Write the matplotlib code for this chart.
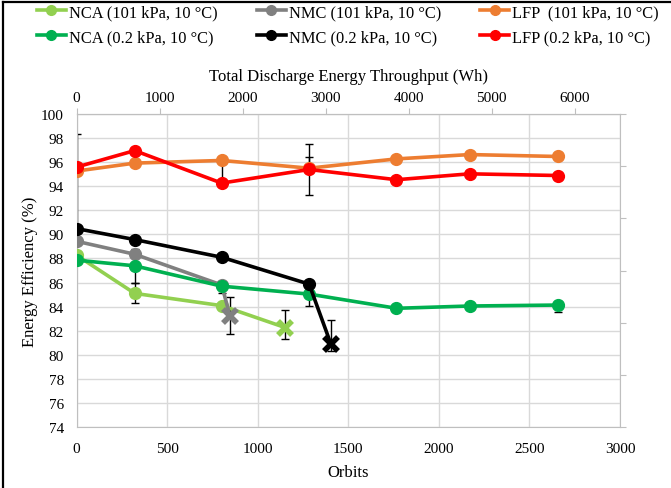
import matplotlib
matplotlib.use("Agg")
import matplotlib.pyplot as plt
from matplotlib.lines import Line2D
import numpy as np

plt.rcParams['font.family'] = ['Liberation Serif', 'DejaVu Serif']
plt.rcParams['font.size'] = 11

# --- data ---
orbits_nca101 = [0, 321, 801, 1152]
eff_nca101 = [88.27, 85.10, 84.08, 82.26]
errlo_nca101 = [0, 0.83, 0, 0.91]
errhi_nca101 = [0, 0.83, 0, 1.46]

orbits_nmc101 = [0, 321, 801, 847]
eff_nmc101 = [89.43, 88.35, 85.80, 83.25]
errlo_nmc101 = [0, 0, 0, 1.55]
errhi_nmc101 = [0, 0, 0, 1.55]

orbits_lfp101 = [0, 321, 801, 1284, 1766, 2170, 2659]
eff_lfp101 = [95.26, 95.92, 96.14, 95.50, 96.27, 96.63, 96.47]
errlo_lfp101 = [0, 0, 1.9, 0, 0, 0, 0]
errhi_lfp101 = [0, 0, 0, 0.9, 0, 0, 0]

orbits_nca02 = [0, 321, 801, 1284, 1766, 2170, 2659]
eff_nca02 = [87.86, 87.39, 85.70, 85.04, 83.86, 84.05, 84.13]
errlo_nca02 = [0, 1.4, 0.55, 1.0, 0, 0, 0.55]
errhi_nca02 = [0, 1.4, 0, 0, 0, 0, 0]

orbits_nmc02 = [0, 321, 801, 1284, 1404]
eff_nmc02 = [90.48, 89.57, 88.10, 85.87, 80.90]
errlo_nmc02 = [0, 0, 0, 0, 0.6]
errhi_nmc02 = [7.9, 0, 0, 0, 2.0]

orbits_lfp02 = [0, 321, 801, 1284, 1766, 2170, 2659]
eff_lfp02 = [95.59, 96.96, 94.26, 95.39, 94.54, 95.03, 94.89]
errlo_lfp02 = [0, 0, 0, 2.1, 0, 0, 0]
errhi_lfp02 = [0, 0, 0, 2.1, 0, 0, 0]

labels = ['NCA (101 kPa, 10 °C)', 'NMC (101 kPa, 10 °C)', 'LFP  (101 kPa, 10 °C)',
          'NCA (0.2 kPa, 10 °C)', 'NMC (0.2 kPa, 10 °C)', 'LFP (0.2 kPa, 10 °C)']
colors = ['#92d050', '#808080', '#ed7d31', '#00b050', '#000000', '#ff0000']
# series that end in a cell failure (last point drawn as X)
failed = [True, True, False, False, True, False]

series = [
    (orbits_nca101, eff_nca101, errlo_nca101, errhi_nca101),
    (orbits_nmc101, eff_nmc101, errlo_nmc101, errhi_nmc101),
    (orbits_lfp101, eff_lfp101, errlo_lfp101, errhi_lfp101),
    (orbits_nca02, eff_nca02, errlo_nca02, errhi_nca02),
    (orbits_nmc02, eff_nmc02, errlo_nmc02, errhi_nmc02),
    (orbits_lfp02, eff_lfp02, errlo_lfp02, errhi_lfp02),
]

wh_max = 6546.0   # top axis value at 3000 orbits
orbit_max = 3000.0

W, H = 671, 489
fig = plt.figure(figsize=(W / 100, H / 100), dpi=100)
ax = fig.add_axes([76.5 / W, 1 - 428 / H, (620 - 76.5) / W, (428 - 115) / H])

# border (left and top edges visible in the reference)
fig.add_artist(Line2D([3 / W, 3 / W], [0, 1 - 3 / H], color='black', lw=1.6,
                      transform=fig.transFigure))
fig.add_artist(Line2D([3 / W, 1], [1 - 3 / H, 1 - 3 / H], color='black', lw=1.6,
                      transform=fig.transFigure))

handles = []
for i, (x, y, lo, hi) in enumerate(series):
    x = np.array(x)
    y = np.array(y)
    lo = np.array(lo)
    hi = np.array(hi)
    c = colors[i]
    z = 3 + i
    m = (lo > 0) | (hi > 0)
    ax.errorbar(x[m], y[m], yerr=[lo[m], hi[m]], fmt='none', ecolor='black',
                elinewidth=1, capsize=3, capthick=1, zorder=2)
    ax.plot(x, y, '-', color=c, lw=2.6, zorder=z)
    if failed[i]:
        ax.plot(x[:-1], y[:-1], 'o', color=c, ms=8.5, zorder=z)
        ax.plot(x[-1:], y[-1:], 'x', color=c, ms=10, mew=4, zorder=z)
    else:
        ax.plot(x, y, 'o', color=c, ms=8.5, zorder=z)
    h, = ax.plot([], [], '-o', color=c, lw=2.6, ms=7)
    handles.append(h)

ax.set_xlim(0, orbit_max)
ax.set_ylim(74, 100)
ax.set_xticks(np.arange(0, 3001, 500))
ax.set_yticks(np.arange(74, 101, 2))
ax.grid(True, color='#d9d9d9', lw=1)
ax.set_axisbelow(True)
ax.tick_params(length=0, labelsize=11, colors='#000000')
ax.tick_params(axis='x', pad=11)
ax.tick_params(axis='y', pad=9)
for s in ax.spines.values():
    s.set_color('#bfbfbf')
ax.set_xlabel('Orbits', fontsize=12, labelpad=6)
ax.set_ylabel('Energy Efficiency (%)', fontsize=12, labelpad=2)

# top axis (energy throughput)
top = ax.secondary_xaxis('top', functions=(lambda o: o * wh_max / orbit_max,
                                           lambda w: w * orbit_max / wh_max))
top.set_xticks(np.arange(0, 6001, 1000))
top.tick_params(length=4, color='#bfbfbf', labelsize=11, pad=3)
top.spines['top'].set_color('#bfbfbf')
top.set_xlabel('Total Discharge Energy Throughput (Wh)', fontsize=12, labelpad=8)

# right axis: ticks only
right = ax.twinx()
right.set_ylim(0, 6)
right.set_yticks(np.arange(0, 7, 1))
right.set_yticklabels([])
right.tick_params(length=4, color='#bfbfbf')
for s in right.spines.values():
    s.set_visible(False)

order = [0, 3, 1, 4, 2, 5]
fig.legend([handles[k] for k in order], [labels[k] for k in order],
           loc='upper left', bbox_to_anchor=(37 / W, 1 - 5 / H), ncol=3, frameon=False,
           fontsize=11.8, handlelength=1.75, handletextpad=0.2, columnspacing=2.4,
           labelspacing=0.55, borderpad=0, borderaxespad=0)

fig.savefig('out.png', dpi=100)
